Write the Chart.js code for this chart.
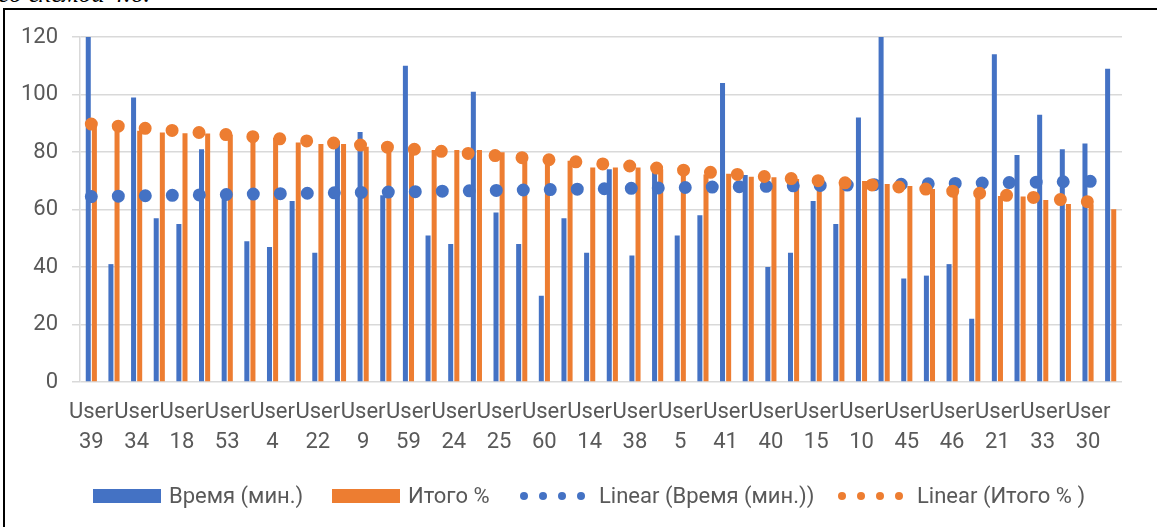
<!DOCTYPE html>
<html lang="ru">
<head>
<meta charset="utf-8">
<title>Время и итог по пользователям</title>
<script src="https://cdn.jsdelivr.net/npm/chart.js@4.4.1/dist/chart.umd.min.js"></script>
<style>
  html, body { margin: 0; padding: 0; background: #fff; overflow: hidden; }
  .page { position: relative; width: 1157px; height: 527px; overflow: hidden; }
  .caption { position: absolute; left: -2px; top: -21px; font: italic 26px 'Liberation Serif', serif; color: #000; white-space: nowrap; }
  .frame { position: absolute; left: 3px; top: 8px; width: 1200px; height: 600px; border-left: 2px solid #000; border-top: 2px solid #000; }
  #chart { position: absolute; left: 0; top: 0; }
  .legend-text { position: absolute; top: 481px; font: 22px Roboto, sans-serif; line-height: 30px; color: #595959; white-space: nowrap; }
  .swatch { position: absolute; top: 489px; width: 68px; height: 14px; }
  .dot { position: absolute; top: 492px; width: 8px; height: 8px; border-radius: 50%; }
</style>
</head>
<body>
<div class="page">
  <div class="caption">со схемой 4.6.</div>
  <div class="frame"></div>
  <canvas id="chart" width="1157" height="527"></canvas>

  <span class="swatch" style="left:93px;background:#4472c4"></span>
  <span class="legend-text" style="left:169px">Время (мин.)</span>
  <span class="swatch" style="left:332px;background:#ed7d31"></span>
  <span class="legend-text" style="left:408px">Итого %</span>
  <span class="dot" style="left:520px;background:#4472c4"></span>
  <span class="dot" style="left:539px;background:#4472c4"></span>
  <span class="dot" style="left:558px;background:#4472c4"></span>
  <span class="dot" style="left:577px;background:#4472c4"></span>
  <span class="legend-text" style="left:599px">Linear (Время (мин.))</span>
  <span class="dot" style="left:838px;background:#ed7d31"></span>
  <span class="dot" style="left:857px;background:#ed7d31"></span>
  <span class="dot" style="left:876px;background:#ed7d31"></span>
  <span class="dot" style="left:895px;background:#ed7d31"></span>
  <span class="legend-text" style="left:917px">Linear (Итого % )</span>
</div>

<script>
// every second category carries a visible label, the others are skipped like in Excel
const labelUsers = [39, 34, 18, 53, 4, 22, 9, 59, 24, 25, 60, 14, 38, 5, 41, 40, 15, 10, 45, 46, 21, 33, 30];
const categories = labelUsers.flatMap((id) => [`User ${id}`, '']);

const timeMinutes = [
  120, 41, 99, 57, 55, 81, 65, 49, 47, 63,
  45, 83, 87, 65, 110, 51, 48, 101, 59, 48,
  30, 57, 45, 74, 44, 73, 51, 58, 104, 72,
  40, 45, 63, 55, 92, 120, 36, 37, 41, 22,
  114, 79, 93, 81, 83, 109
];

const totalPercent = [
  89.5, 88.5, 87.4, 86.8, 86.5, 86.4, 86, 85.6, 85, 83.3,
  82.8, 82.8, 81.8, 81.4, 80.6, 80.7, 80.7, 80.7, 79.9, 78,
  77, 77, 74.6, 74.6, 74.6, 74, 73, 72.2, 72.4, 71.4,
  71.2, 70.6, 70, 69.3, 69.9, 68.9, 68.2, 67.1, 66.2, 65.6,
  64.7, 64.5, 63.3, 61.9, 61.8, 60.1
];

// trendline values at the first and last category
const trendTimeEnds = [64.5, 69.9];
const trendTotalEnds = [89.7, 62.1];

const yTicks = [0, 20, 40, 60, 80, 100, 120];

const textColor = '#595959';
const gridColor = '#d9d9d9';
const blue = '#4472c4';
const orange = '#ed7d31';
const axisFont = { family: 'Roboto', size: 22, lineHeight: 1.34 };

// only the two end values, the gap between them is spanned by the line
function trendValues(ends) {
  const last = categories.length - 1;
  return categories.map((_, i) => (i === 0 ? ends[0] : i === last ? ends[1] : null));
}

function trendDataset(label, ends, color, order) {
  return {
    type: 'line',
    label,
    data: trendValues(ends),
    spanGaps: true,
    borderColor: color,
    borderWidth: 13,
    borderDash: [0, 27],
    borderCapStyle: 'round',
    pointRadius: 0,
    fill: false,
    order
  };
}

function barDataset(label, data, color) {
  return {
    label,
    data,
    backgroundColor: color,
    categoryPercentage: 0.54,
    barPercentage: 0.82,
    order: 3
  };
}

new Chart(document.getElementById('chart'), {
  type: 'bar',
  data: {
    labels: categories,
    datasets: [
      barDataset('Время (мин.)', timeMinutes, blue),
      barDataset('Итого %', totalPercent, orange),
      trendDataset('Linear (Время (мин.))', trendTimeEnds, blue, 2),
      trendDataset('Linear (Итого % )', trendTotalEnds, orange, 1)
    ]
  },
  options: {
    responsive: false,
    animation: false,
    layout: { padding: { top: 37, right: 35, bottom: 55, left: 0 } },
    plugins: {
      legend: { display: false },
      tooltip: { enabled: false }
    },
    scales: {
      x: {
        grid: { display: false },
        border: { display: false },
        ticks: {
          autoSkip: false,
          maxRotation: 0,
          minRotation: 0,
          color: textColor,
          font: axisFont,
          padding: 8,
          callback(value, index) {
            const label = categories[index];
            return label ? label.split(' ') : '';
          }
        },
        afterFit(scale) {
          scale.height = 90;
        }
      },
      y: {
        min: 0,
        max: 120,
        afterBuildTicks(scale) {
          scale.ticks = yTicks.map((value) => ({ value }));
        },
        ticks: { color: textColor, font: axisFont, padding: 14 },
        grid: { color: gridColor, lineWidth: 1.5, tickLength: 8 },
        border: { color: gridColor, width: 1.5 },
        afterFit(scale) {
          scale.width = 80;
        }
      }
    }
  }
});
</script>
</body>
</html>
